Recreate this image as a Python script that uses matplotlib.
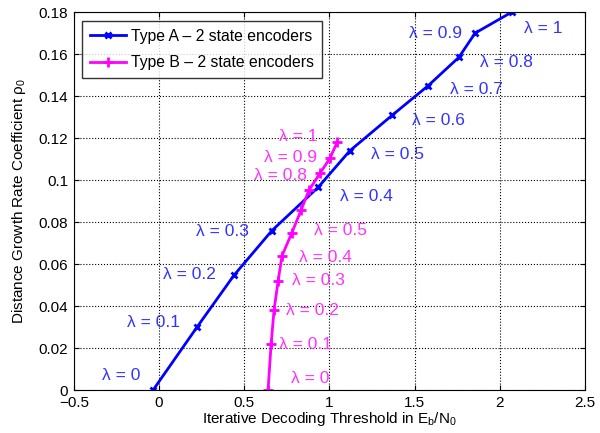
import matplotlib
matplotlib.use("Agg")
from matplotlib import pyplot as plt

plt.rcParams['font.family'] = ['Liberation Sans', 'DejaVu Sans']
plt.rcParams['mathtext.fontset'] = 'custom'
plt.rcParams['mathtext.rm'] = 'Liberation Sans'
plt.rcParams['mathtext.it'] = 'Liberation Sans'

# Type A - 2 state encoders
a_x = [-0.035, 0.223, 0.44, 0.663, 0.934, 1.12, 1.37, 1.58, 1.76, 1.855, 2.07]
a_y = [0.0, 0.030, 0.0547, 0.076, 0.0966, 0.114, 0.131, 0.145, 0.1585, 0.170, 0.180]
# Type B - 2 state encoders
b_x = [0.64, 0.658, 0.675, 0.699, 0.722, 0.78, 0.834, 0.88, 0.945, 1.004, 1.045]
b_y = [0.0, 0.0219, 0.038, 0.052, 0.064, 0.075, 0.0857, 0.0952, 0.1033, 0.1105, 0.118]

# lambda labels (text, x, y)
a_labels = [("0", -0.223, 0.0071), ("0.1", -0.035, 0.032), ("0.2", 0.18, 0.055),
            ("0.3", 0.375, 0.0757), ("0.4", 1.215, 0.092), ("0.5", 1.40, 0.112),
            ("0.6", 1.64, 0.1285), ("0.7", 1.86, 0.143), ("0.8", 2.04, 0.156),
            ("0.9", 1.62, 0.170), ("1", 2.255, 0.172)]
b_labels = [("0", 0.887, 0.0057), ("0.1", 0.857, 0.0219), ("0.2", 0.898, 0.038),
            ("0.3", 0.934, 0.052), ("0.4", 0.975, 0.063), ("0.5", 1.063, 0.076),
            ("0.8", 0.71, 0.102), ("0.9", 0.77, 0.111), ("1", 0.816, 0.121)]

fig = plt.figure(figsize=(6, 4.33), dpi=100)
ax = fig.add_axes([0.123, 0.099, 0.852, 0.873])

ax.plot(a_x, a_y, color='blue', lw=2, marker='x', ms=5, mew=2,
        label="Type A \u2013 2 state encoders")
ax.plot(b_x, b_y, color='magenta', lw=2, marker='+', ms=7, mew=2,
        label="Type B \u2013 2 state encoders")

for t, x, y in a_labels:
    ax.text(x, y, "\u03bb = " + t, color='#3333ff', fontsize=12.5, ha='center', va='center')
for t, x, y in b_labels:
    ax.text(x, y, "\u03bb = " + t, color='#ff33ff', fontsize=12.5, ha='center', va='center')

ax.set_xlim(-0.5, 2.5)
ax.set_ylim(0, 0.18)
ax.set_xticks([-0.5, 0, 0.5, 1, 1.5, 2, 2.5])
ax.set_xticklabels(["\u22120.5", "0", "0.5", "1", "1.5", "2", "2.5"])
ax.set_yticks([0, 0.02, 0.04, 0.06, 0.08, 0.1, 0.12, 0.14, 0.16, 0.18])
ax.set_yticklabels(["0", "0.02", "0.04", "0.06", "0.08", "0.1", "0.12", "0.14", "0.16", "0.18"])
ax.tick_params(direction='in', labelsize=11, top=True, right=True, pad=4)
ax.grid(True, color='black', linestyle=':', lw=0.8)

ax.set_xlabel("Iterative Decoding Threshold in E$_\\mathrm{b}$/N$_\\mathrm{0}$", fontsize=11, labelpad=0)
ax.set_ylabel("Distance Growth Rate Coefficient \u03c1$_\\mathrm{0}$", fontsize=11, labelpad=8)

leg = ax.legend(loc='upper left', fontsize=11.3, fancybox=False, edgecolor='black',
                borderaxespad=0.55, handlelength=2.3, handletextpad=0.3,
                labelspacing=0.75, borderpad=0.5)
leg.get_frame().set_linewidth(1)

fig.savefig("out.png", dpi=100)
